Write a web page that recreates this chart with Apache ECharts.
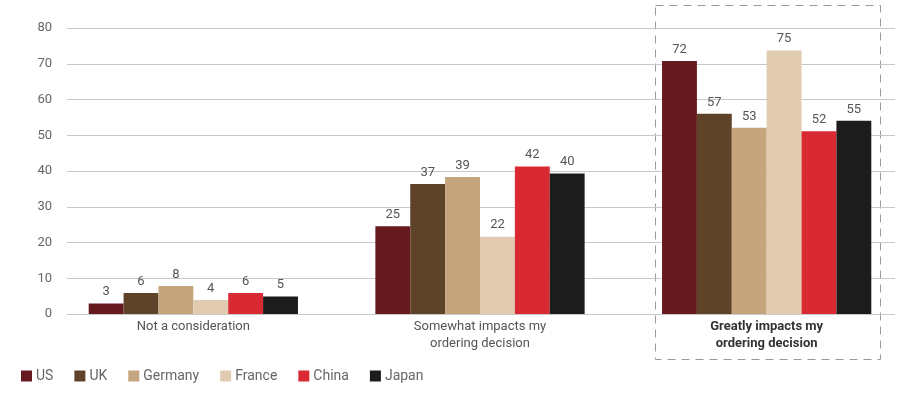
<!DOCTYPE html>
<html>
<head>
<meta charset="utf-8">
<script src="https://cdn.jsdelivr.net/npm/echarts@6/dist/echarts.min.js"></script>
<style>
    html, body { margin: 0; padding: 0; background: #fff; }
    #chart { width: 921px; height: 397px; }
</style>
</head>
<body>
<div id="chart"></div>
<script>
// data
const categories = ['Not a consideration', 'Somewhat impacts my\nordering decision', 'Greatly impacts my\nordering decision'];
const countries = ['US', 'UK', 'Germany', 'France', 'China', 'Japan'];
const usData = [3, 25, 72];
const ukData = [6, 37, 57];
const germanyData = [8, 39, 53];
const franceData = [4, 22, 75];
const chinaData = [6, 42, 52];
const japanData = [5, 40, 55];
const colors = ['#661a1f', '#5f4329', '#c4a57d', '#e0cbb0', '#d92a33', '#1c1c1c'];

const allData = [usData, ukData, germanyData, franceData, chinaData, japanData];

const chart = echarts.init(document.getElementById('chart'));

chart.setOption({
    animation: false,
    textStyle: { fontFamily: 'Roboto' },
    legend: {
        data: countries,
        left: 16,
        top: 364,
        itemWidth: 11,
        itemHeight: 11,
        itemGap: 21,
        icon: 'rect',
        textStyle: { color: '#666', fontSize: 14, padding: [0, 0, 0, -1] }
    },
    grid: [
        // gridlines + y labels
        { left: 67, right: 26, top: 28, bottom: 83 },
        // bars
        { left: 50, right: 11, top: 33, bottom: 83 }
    ],
    xAxis: [
        {
            gridIndex: 0,
            type: 'value',
            show: false
        },
        {
            gridIndex: 1,
            type: 'category',
            data: categories,
            axisLine: { show: false },
            axisTick: { show: false },
            axisLabel: {
                interval: 0,
                margin: 4,
                color: '#555',
                fontSize: 13,
                lineHeight: 17,
                formatter: (val, idx) => idx === 2
                    ? val.split('\n').map(s => '{b|' + s + '}').join('\n')
                    : val,
                rich: {
                    b: { fontWeight: 'bold', color: '#333', fontSize: 13, lineHeight: 17 }
                }
            }
        }
    ],
    yAxis: [
        {
            gridIndex: 0,
            type: 'value',
            min: 0,
            max: 80,
            interval: 10,
            axisLine: { show: false },
            axisTick: { show: false },
            axisLabel: { color: '#666', fontSize: 13, margin: 15 },
            splitLine: { lineStyle: { color: '#c8c8c8', width: 1 } }
        },
        {
            gridIndex: 1,
            type: 'value',
            min: 0,
            max: 80,
            show: false
        }
    ],
    series: countries.map((name, i) => ({
        name: name,
        type: 'bar',
        xAxisIndex: 1,
        yAxisIndex: 1,
        barGap: 0,
        barCategoryGap: '27%',
        data: allData[i],
        itemStyle: { color: colors[i] },
        label: {
            show: true,
            position: 'top',
            distance: 5,
            color: '#555',
            fontSize: 13
        }
    })),
    graphic: [
        {
            type: 'rect',
            shape: { x: 655.5, y: 5.5, width: 225, height: 354 },
            style: { fill: 'none', stroke: '#9a9a9a', lineWidth: 1, lineDash: [8, 6] },
            silent: true
        }
    ]
});

window.addEventListener('resize', function () {
    chart.resize();
});
</script>
</body>
</html>
